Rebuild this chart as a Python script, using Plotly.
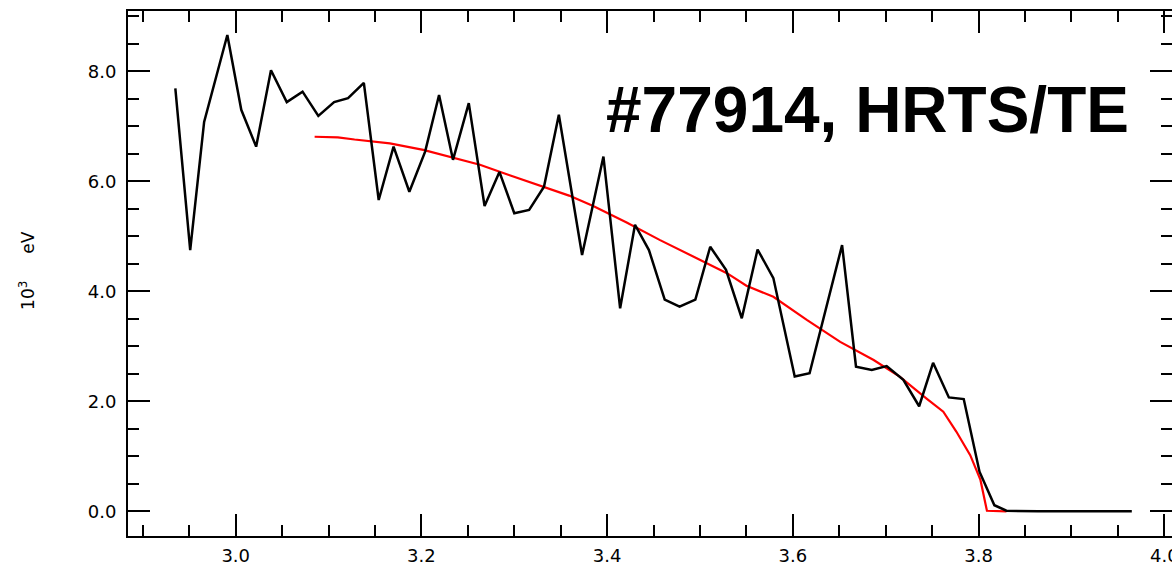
import plotly.graph_objects as go

# Measured HRTS electron temperature (10^3 eV) vs major radius (m)
r_meas = [2.935, 2.951, 2.966, 2.978, 2.991, 3.006, 3.022, 3.038, 3.055, 3.072,
          3.089, 3.106, 3.121, 3.138, 3.154, 3.170, 3.187, 3.204, 3.219, 3.234,
          3.251, 3.268, 3.284, 3.300, 3.316, 3.332, 3.348, 3.373, 3.396, 3.414,
          3.430, 3.445, 3.462, 3.478, 3.495, 3.511, 3.528, 3.545, 3.562, 3.579,
          3.602, 3.618, 3.635, 3.653, 3.668, 3.685, 3.701, 3.719, 3.736, 3.751,
          3.768, 3.784, 3.801, 3.817, 3.830, 3.847, 3.864, 3.881, 3.898, 3.915,
          3.932, 3.949, 3.965]
te_meas = [7.69, 4.75, 7.08, 7.85, 8.66, 7.30, 6.63, 8.02, 7.44, 7.63,
           7.19, 7.44, 7.51, 7.79, 5.66, 6.63, 5.81, 6.54, 7.57, 6.39,
           7.42, 5.55, 6.17, 5.42, 5.48, 5.90, 7.21, 4.66, 6.45, 3.69,
           5.21, 4.75, 3.85, 3.72, 3.85, 4.81, 4.39, 3.51, 4.76, 4.24,
           2.45, 2.51, 3.65, 4.84, 2.63, 2.57, 2.64, 2.39, 1.91, 2.70,
           2.07, 2.04, 0.72, 0.11, 0.01, 0.0, 0.0, 0.0, 0.0, 0.0,
           0.0, 0.0, 0.0]

# Fitted profile
r_fit = [3.085, 3.110, 3.128, 3.149, 3.166, 3.202, 3.234, 3.263, 3.295, 3.331,
         3.359, 3.385, 3.421, 3.457, 3.493, 3.529, 3.550, 3.579, 3.615, 3.651,
         3.687, 3.715, 3.744, 3.762, 3.776, 3.791, 3.802, 3.809, 3.830]
te_fit = [6.81, 6.80, 6.76, 6.72, 6.69, 6.57, 6.43, 6.30, 6.11, 5.90,
          5.74, 5.55, 5.25, 4.93, 4.63, 4.33, 4.10, 3.90, 3.48, 3.08,
          2.75, 2.45, 2.05, 1.81, 1.45, 1.02, 0.57, 0.01, 0.0]

x_ticks = [3.0, 3.2, 3.4, 3.6, 3.8, 4.0]
x_labels = ["3.0", "3.2", "3.4", "3.6", "3.8", "4.0"]
y_ticks = [0.0, 2.0, 4.0, 6.0, 8.0]
y_labels = ["0.0", "2.0", "4.0", "6.0", "8.0"]

title_text = "#77914, HRTS/TE"
y_title = "10<sup>3</sup>     eV"

tick_font = dict(family="DejaVu Sans ExtraLight, DejaVu Sans, sans-serif", size=18, color="black")

fig = go.Figure()
fig.add_trace(go.Scatter(x=r_fit, y=te_fit, mode="lines",
                         line=dict(color="#ff0000", width=2.2), showlegend=False))
fig.add_trace(go.Scatter(x=r_meas, y=te_meas, mode="lines",
                         line=dict(color="black", width=2.5), showlegend=False))

axis_common = dict(showline=True, linecolor="black", linewidth=2, mirror="ticks",
                   ticks="inside", ticklen=22, tickwidth=2, tickcolor="black",
                   showgrid=False, zeroline=False, tickfont=tick_font,
                   ticklabeloverflow="allow", automargin=False)

fig.update_xaxes(range=[2.88402, 4.00829], tickmode="array", tickvals=x_ticks,
                 ticktext=x_labels, ticklabelstandoff=2,
                 minor=dict(dtick=0.05, tick0=3.0, ticks="inside", ticklen=11,
                            tickwidth=2, tickcolor="black", showgrid=False),
                 **axis_common)
fig.update_yaxes(range=[-0.449, 9.096], tickmode="array", tickvals=y_ticks,
                 ticktext=y_labels, ticklabelstandoff=6,
                 minor=dict(dtick=0.5, tick0=0.0, ticks="inside", ticklen=11,
                            tickwidth=2, tickcolor="black", showgrid=False),
                 **axis_common)

fig.add_annotation(text=title_text, xref="paper", yref="y", x=0.7083, y=7.30,
                   xanchor="center", yanchor="middle", showarrow=False,
                   font=dict(family="Liberation Sans, Arial, sans-serif", size=64,
                             color="black", weight="bold"))
fig.add_annotation(text=y_title, xref="paper", yref="paper", x=-0.0967, y=0.505,
                   xanchor="center", yanchor="middle", textangle=-90, showarrow=False,
                   font=dict(family="DejaVu Sans ExtraLight, DejaVu Sans, sans-serif",
                             size=17, color="black"))

fig.update_layout(width=1172, height=564,
                  margin=dict(l=128, r=0, t=11, b=28, autoexpand=False),
                  paper_bgcolor="white", plot_bgcolor="white")

fig.write_html("out.html")
